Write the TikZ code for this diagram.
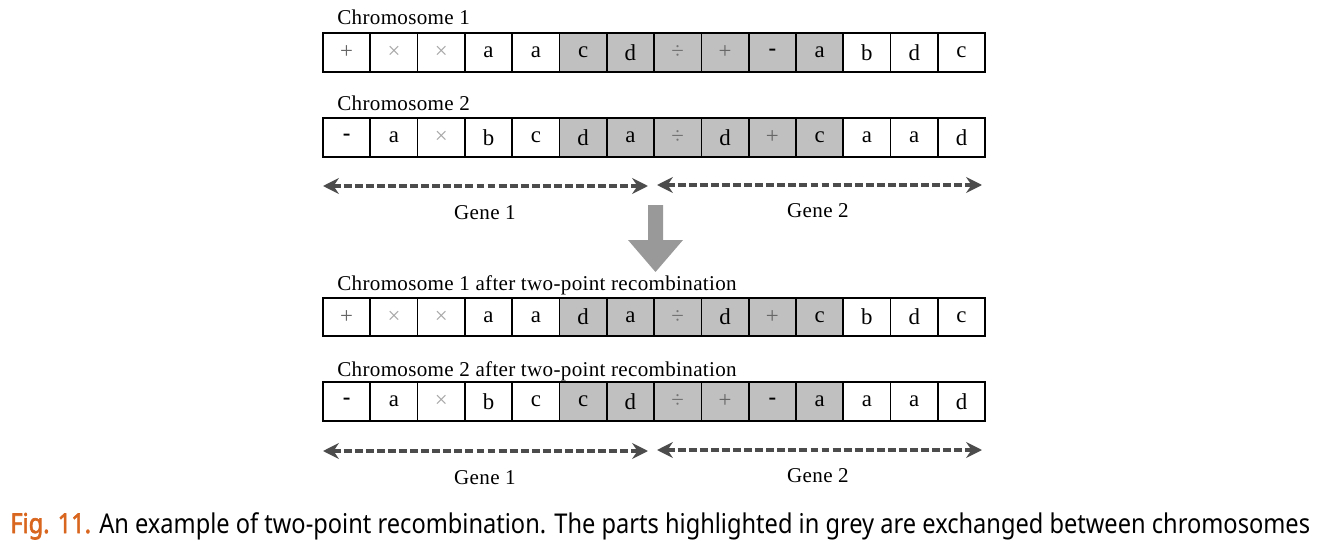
\documentclass[tikz,border=0pt]{standalone}
\usepackage{graphicx}
\usepackage{fontspec}
\setmainfont{Liberation Serif}
\newfontfamily\capfont{Noto Sans}
\newfontfamily\capboldfont[FakeBold=2.5]{Noto Sans}
\newfontfamily\titlefont[LetterSpace=1.5]{Liberation Serif}
\usetikzlibrary{arrows.meta}

\definecolor{hgrey}{HTML}{C0C0C0}
\definecolor{figorange}{HTML}{D9661F}
\newcommand\sPl{\textcolor{black!60}{+}}
\newcommand\sTi{\textcolor{black!35}{×}}
\newcommand\sDv{\textcolor{black!55}{÷}}
\newcommand\sMi{\textbf{-}}

\tikzset{
  cell/.style={draw=black, line width=1pt, fill=white, minimum width=0.946cm,
    minimum height=0.77cm, inner sep=0pt, font=\fontsize{13}{15}\selectfont},
  hcell/.style={cell, fill=hgrey},
  chromtitle/.style={anchor=base west, inner sep=0pt, font=\titlefont\fontsize{12}{14}\selectfont},
  genearrow/.style={draw=black!70, line width=1.8pt, dash pattern=on 4.5pt off 1.8pt,
    {Stealth[length=9pt,width=9pt,inset=3pt]}-{Stealth[length=9pt,width=9pt,inset=3pt]}},
  genelabel/.style={inner sep=0pt, font=\titlefont\fontsize{12}{14}\selectfont},
}

\begin{document}
\begin{tikzpicture}[x=0.02cm, y=-0.02cm]
\useasboundingbox (0,0) rectangle (1319,544);
%%%%% layout
\def\xl{323}
\def\cw{47.3}

%%%%% chromosomes before
\node[chromtitle] (t1) at (337,25) {Chromosome 1};
\foreach \s [count=\i] in {\sPl,\sTi,\sTi,a,a,c,d,\sDv,\sPl,\sMi,a,b,d,c}
{
 \ifnum\i>5 \ifnum\i<12 \def\cs{hcell}\else\def\cs{cell}\fi\else\def\cs{cell}\fi
 \node[\cs] (a\i) at (\xl+\i*\cw-.5*\cw, 52.5) {\s};
}
\node[chromtitle] (t2) at (337,111) {Chromosome 2};
\foreach \s [count=\i] in {\sMi,a,\sTi,b,c,d,a,\sDv,d,\sPl,c,a,a,d}
{
 \ifnum\i>5 \ifnum\i<12 \def\cs{hcell}\else\def\cs{cell}\fi\else\def\cs{cell}\fi
 \node[\cs] (b\i) at (\xl+\i*\cw-.5*\cw, 137.5) {\s};
}

%%%%% genes
\coordinate (g1l) at (323,186);
\coordinate (g1r) at (648,186);
\coordinate (g2l) at (657,185);
\coordinate (g2r) at (982,185);
\draw[genearrow] (g1l) -- (g1r);
\draw[genearrow] (g2l) -- (g2r);
\node[genelabel] (gene1) at (485,213) {Gene 1};
\node[genelabel] (gene2) at (818,211) {Gene 2};

%%%%% big arrow
\fill[black!40] (648,205) -- (663,205) -- (663,240) -- (683,240) -- (655.5,272)
  -- (628,240) -- (648,240) -- cycle;

%%%%% chromosomes after
\node[chromtitle] (t3) at (337,290) {Chromosome 1 after two-point recombination};
\foreach \s [count=\i] in {\sPl,\sTi,\sTi,a,a,d,a,\sDv,d,\sPl,c,b,d,c}
{
 \ifnum\i>5 \ifnum\i<12 \def\cs{hcell}\else\def\cs{cell}\fi\else\def\cs{cell}\fi
 \node[\cs] (c\i) at (\xl+\i*\cw-.5*\cw, 317) {\s};
}
\node[chromtitle] (t4) at (337,376) {Chromosome 2 after two-point recombination};
\foreach \s [count=\i] in {\sMi,a,\sTi,b,c,c,d,\sDv,\sPl,\sMi,a,a,a,d}
{
 \ifnum\i>5 \ifnum\i<12 \def\cs{hcell}\else\def\cs{cell}\fi\else\def\cs{cell}\fi
 \node[\cs] (d\i) at (\xl+\i*\cw-.5*\cw, 401.5) {\s};
}

\coordinate (h1l) at (323,451);
\coordinate (h1r) at (648,451);
\coordinate (h2l) at (657,450);
\coordinate (h2r) at (982,450);
\draw[genearrow] (h1l) -- (h1r);
\draw[genearrow] (h2l) -- (h2r);
\node[genelabel] (gene3) at (485,478) {Gene 1};
\node[genelabel] (gene4) at (818,476) {Gene 2};

%%%%% caption
\node[anchor=base west, inner sep=0pt] (cap) at (10,533)
 {\resizebox{26cm}{\height}{\capfont\fontsize{15.5}{18}\selectfont
  \textcolor{figorange}{\capboldfont Fig. 11.} An example of two-point recombination. The parts highlighted in grey are exchanged between chromosomes}};
\end{tikzpicture}
\end{document}
